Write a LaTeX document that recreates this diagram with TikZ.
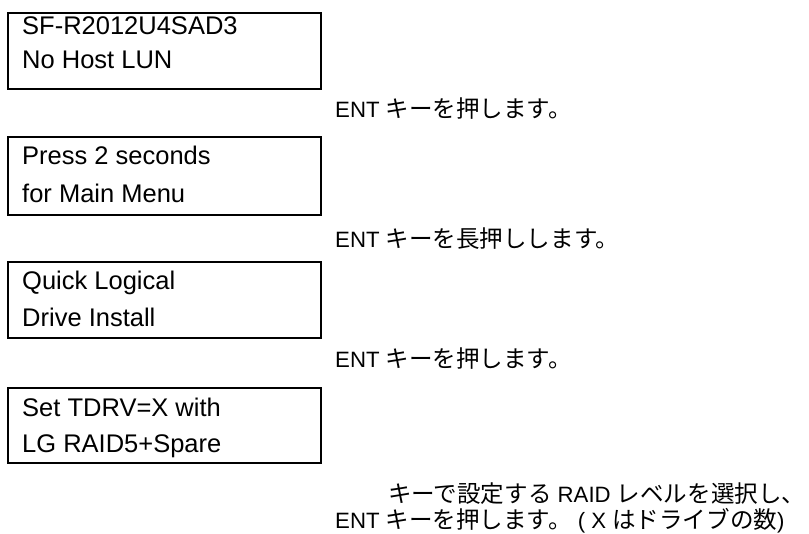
\documentclass[tikz,border=0pt]{standalone}
\usepackage{fontspec}
\setmainfont{Liberation Sans}
\newfontfamily\jp[Scale=1.06]{Noto Sans CJK JP}
\begin{document}
\begin{tikzpicture}[x=1pt,y=-1pt,
  lcd/.style={draw, line width=1.7pt, minimum width=313pt, minimum height=76pt, anchor=north west, inner sep=0pt},
  boxtxt/.style={anchor=base west, inner sep=0pt, font=\fontsize{25.5}{30}\selectfont},
  note/.style={anchor=base west, inner sep=0pt, font=\fontsize{22.2}{26}\selectfont}]
\useasboundingbox (0,0) rectangle (809,534);
\fill[white] (0,0) rectangle (809,534);
% display boxes
\node[lcd] (b1) at (7,12) {};
\node[lcd, minimum height=78pt] (b2) at (7,136) {};
\node[lcd] (b3) at (7,261) {};
\node[lcd, minimum height=75pt] (b4) at (7,387) {};
% box texts
\node[boxtxt] (t1a) at (22,35) {SF-R2012U4SAD3};
\node[boxtxt] (t1b) at (22,69) {No Host LUN};
\node[boxtxt] (t2a) at (22,165) {Press 2 seconds};
\node[boxtxt] (t2b) at (22,203) {for Main Menu};
\node[boxtxt] (t3a) at (22,290) {Quick Logical};
\node[boxtxt] (t3b) at (22,327) {Drive Install};
\node[boxtxt] (t4a) at (22,417) {Set TDRV=X with};
\node[boxtxt] (t4b) at (22,453) {LG RAID5+Spare};
% instructions
\node[note] (n1) at (335,118) {ENT {\jp キーを押します。}};
\node[note] (n2) at (335,248) {ENT {\jp キーを長押しします。}};
\node[note] (n3) at (335,368) {ENT {\jp キーを押します。}};
\node[note] (n4a) at (388,503) {{\jp キーで設定する} RAID {\jp レベルを選択し、}};
\node[note] (n4b) at (335,529) {ENT {\jp キーを押します。} ( X {\jp はドライブの数})};
\end{tikzpicture}
\end{document}
